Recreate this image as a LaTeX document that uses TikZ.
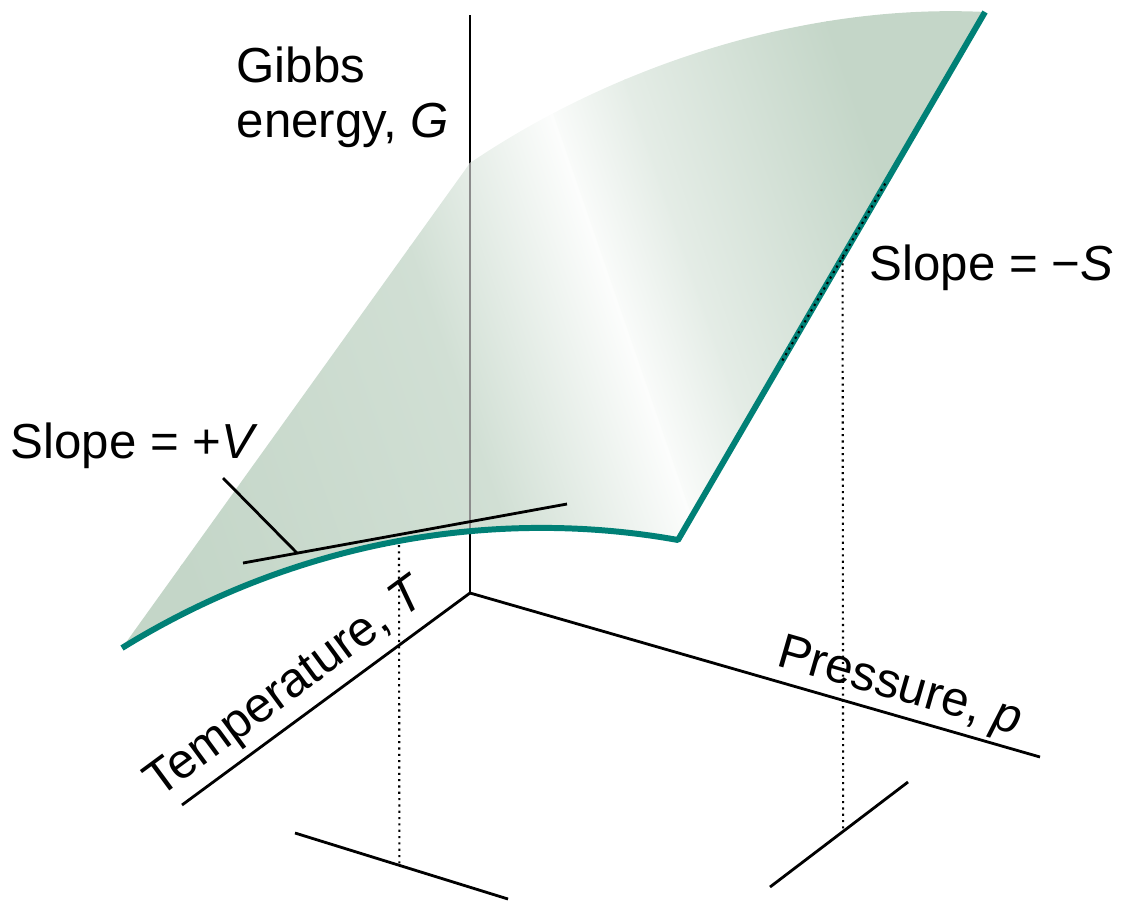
\documentclass[tikz,border=0pt]{standalone}
\usepackage{fontspec}
\setmainfont{Liberation Sans}
\usetikzlibrary{calc, positioning}
\definecolor{surfcolor}{RGB}{196,214,200}
\definecolor{rimcolor}{RGB}{0,128,118}
\tikzset{
  axisline/.style={draw=black, line width=0.8pt},
  rimline/.style={draw=rimcolor, line width=1.7pt, line join=round},
  guideline/.style={draw=black, line width=0.6pt, dash pattern=on 0.6pt off 1.2pt},
  tagtext/.style={font=\fontsize{14}{15.6}\selectfont, inner sep=0pt},
}

\begin{document}
\begin{tikzpicture}
  \useasboundingbox (0,0) rectangle (11.3,9.03);

  % Surface corners
  \coordinate (A) at (1.22,2.55);
  \coordinate (B) at (6.78,3.63);
  \coordinate (C) at (9.85,8.91);
  \coordinate (D) at (4.70,7.40);

  % Axes
  \coordinate (O) at (4.70,3.10);
  \coordinate (Gtop) at (4.70,8.88);
  \coordinate (Tend) at (1.82,0.98);
  \coordinate (Pend) at (10.40,1.46);

  \draw[axisline] (O) -- (Gtop);

  % Surface G(T,p)
  \begin{scope}
    \clip (A) .. controls (3.0,3.65) and (5.0,3.95) .. (B) -- (C)
      .. controls (8.0,9.0) and (6.1,8.35) .. (D) -- cycle;
    \begin{scope}[transform canvas={shift={(5.53,7.90)}, rotate=19}]
      \fill[surfcolor] (-8,-9) rectangle (-4.98,9);
      \shade[left color=surfcolor, right color=surfcolor!78!white]
        (-5,-9) rectangle (-1.78,9);
      \shade[left color=surfcolor!78!white, right color=white!96!surfcolor]
        (-1.8,-9) rectangle (0.01,9);
      \shade[left color=white!90!surfcolor, right color=white!55!surfcolor]
        (0,-9) rectangle (0.8,9);
      \shade[left color=white!55!surfcolor, right color=surfcolor]
        (0.78,-9) rectangle (2.9,9);
      \fill[surfcolor] (2.88,-9) rectangle (7,9);
    \end{scope}
    \draw[axisline, draw=black!45] (O) -- (Gtop);
  \end{scope}

  \draw[rimline] (A) .. controls (3.0,3.65) and (5.0,3.95) .. (B) -- (C);

  % T and p axes
  \draw[axisline] (Tend) -- node[tagtext, sloped, above=2pt, pos=0.43]
    {Temperature, \textit{T}} (O);
  \draw[axisline] (O) -- node[tagtext, sloped, above=1pt, pos=0.74]
    {Pressure, \textit{p}} (Pend);

  % Bars below
  \coordinate (tl1) at (2.95,0.70);
  \coordinate (tl2) at (5.08,0.04);
  \coordinate (pl1) at (7.70,0.16);
  \coordinate (pl2) at (9.08,1.21);
  \draw[axisline] (tl1) -- (tl2);
  \draw[axisline] (pl1) -- (pl2);

  % Slope along T
  \coordinate (vt1) at (2.43,3.40);
  \coordinate (vt2) at (5.67,3.99);
  \coordinate (vtip) at ($(vt1)!0.167!(vt2)$);
  \coordinate (vtag) at (2.23,4.25);
  \draw[axisline] (vt1) -- (vt2);
  \draw[axisline] (vtag) -- (vtip);
  \node[tagtext, anchor=base west] (slopeV) at (0.10,4.45) {Slope = +\textit{V}};

  % Slope along p
  \coordinate (st1) at ($(B)!0.34!(C)$);
  \coordinate (st2) at ($(B)!0.68!(C)$);
  \coordinate (sv) at ($(B)!0.536!(C)$);
  \draw[guideline] (st1) -- (st2);
  \node[tagtext, anchor=base west] (slopeS) at (8.69,6.23) {Slope = −\textit{S}};

  % Drop lines
  \coordinate (tv) at (3.99,3.58);
  \draw[guideline] (tv) -- ($(tl1)!0.49!(tl2)$);
  \draw[guideline] (sv) -- ($(pl1)!0.53!(pl2)$);

  \node[tagtext, align=left, anchor=north west] (gibbs) at (2.36,8.57)
    {Gibbs\\energy, \textit{G}};
\end{tikzpicture}
\end{document}
